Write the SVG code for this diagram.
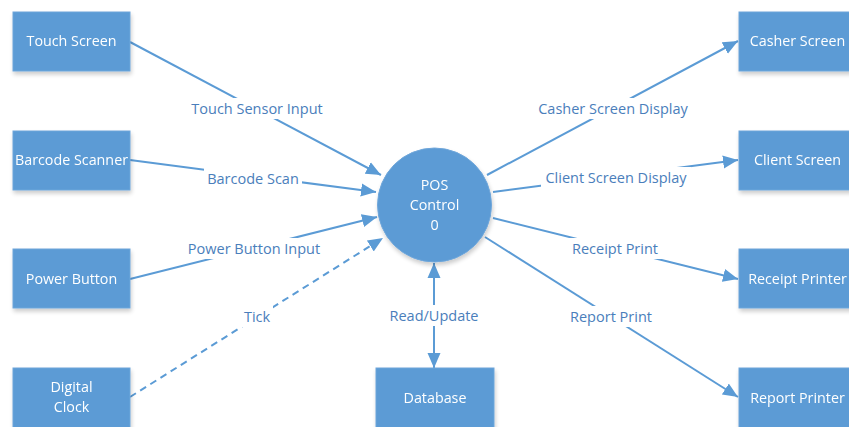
<svg xmlns="http://www.w3.org/2000/svg" width="849" height="427" viewBox="0 0 849 427">
<defs>
<style>
.box{fill:#5b9bd5;stroke:#6fa6da;stroke-width:1}
.nt{font-family:"Open Sans","Liberation Sans",sans-serif;font-size:14.3px;fill:#ffffff;text-anchor:middle}
.ln{fill:none;stroke:#5b9bd5;stroke-width:2}
.dash{stroke-dasharray:7,5}
.lb{font-family:"Open Sans","Liberation Sans",sans-serif;font-size:14.5px;fill:#4a7ebb;text-anchor:middle}
.bg{fill:#ffffff}
</style>
<filter id="sh" x="-10%" y="-10%" width="130%" height="130%">
<feGaussianBlur in="SourceAlpha" stdDeviation="2"/>
<feOffset dx="1" dy="3" result="b"/>
<feComponentTransfer><feFuncA type="linear" slope="0.2"/></feComponentTransfer>
<feMerge><feMergeNode/><feMergeNode in="SourceGraphic"/></feMerge>
</filter>
<marker id="ah" markerUnits="userSpaceOnUse" markerWidth="16" markerHeight="14" refX="15" refY="6.5" orient="auto-start-reverse" viewBox="0 0 16 13">
<path d="M0,0 L15,6.5 L0,13 Z" fill="#5b9bd5"/>
</marker>
</defs>
<rect width="849" height="427" fill="#ffffff"/>

<g id="connectors">
<line class="ln" x1="130" y1="42" x2="381" y2="175" marker-end="url(#ah)"/>
<line class="ln" x1="130" y1="160" x2="376" y2="192" marker-end="url(#ah)"/>
<line class="ln" x1="130" y1="279" x2="377" y2="217" marker-end="url(#ah)"/>
<line class="ln dash" x1="130" y1="397" x2="383" y2="238" marker-end="url(#ah)"/>
<line class="ln" x1="434" y1="263" x2="434" y2="368" marker-start="url(#ah)" marker-end="url(#ah)"/>
<line class="ln" x1="487" y1="175" x2="738" y2="41" marker-end="url(#ah)"/>
<line class="ln" x1="493" y1="192" x2="738" y2="160" marker-end="url(#ah)"/>
<line class="ln" x1="493" y1="218" x2="738" y2="279" marker-end="url(#ah)"/>
<line class="ln" x1="485" y1="237" x2="738" y2="397" marker-end="url(#ah)"/>
<g id="labels">
<rect class="bg" x="188" y="98" width="138" height="21"/><text class="lb" x="257" y="114">Touch Sensor Input</text>
<rect class="bg" x="204" y="168" width="98" height="21"/><text class="lb" x="253" y="184">Barcode Scan</text>
<rect class="bg" x="184" y="238" width="140" height="21"/><text class="lb" x="254" y="254">Power Button Input</text>
<rect class="bg" x="241" y="306" width="32" height="21"/><text class="lb" x="257" y="322">Tick</text>
<rect class="bg" x="385" y="305" width="98" height="21"/><text class="lb" x="434" y="321">Read/Update</text>
<rect class="bg" x="535" y="98" width="156" height="21"/><text class="lb" x="613" y="114">Casher Screen Display</text>
<rect class="bg" x="541" y="167" width="150" height="21"/><text class="lb" x="616" y="183">Client Screen Display</text>
<rect class="bg" x="568" y="238" width="94" height="21"/><text class="lb" x="615" y="254">Receipt Print</text>
<rect class="bg" x="566" y="306" width="90" height="21"/><text class="lb" x="611" y="322">Report Print</text>
</g>
</g>

<g id="touch-screen" filter="url(#sh)"><rect class="box" x="13" y="12" width="117" height="59"/><text class="nt" x="71.5" y="46">Touch Screen</text></g>
<g id="barcode-scanner" filter="url(#sh)"><rect class="box" x="13" y="131" width="117" height="59"/><text class="nt" x="71.5" y="165">Barcode Scanner</text></g>
<g id="power-button" filter="url(#sh)"><rect class="box" x="13" y="249" width="117" height="59"/><text class="nt" x="71.5" y="284">Power Button</text></g>
<g id="digital-clock" filter="url(#sh)"><rect class="box" x="13" y="368" width="117" height="64"/><text class="nt" x="71.5" y="392">Digital</text><text class="nt" x="71.5" y="412">Clock</text></g>

<g id="pos-control" filter="url(#sh)"><circle cx="434.5" cy="205" r="57" fill="#5b9bd5" stroke="#6fa6da"/><text class="nt" x="434.5" y="190">POS</text><text class="nt" x="434.5" y="210">Control</text><text class="nt" x="434.5" y="230">0</text></g>

<g id="database" filter="url(#sh)"><rect class="box" x="376" y="368" width="118" height="64"/><text class="nt" x="435" y="403">Database</text></g>

<g id="casher-screen" filter="url(#sh)"><rect class="box" x="739" y="12" width="117" height="59"/><text class="nt" x="797.5" y="46">Casher Screen</text></g>
<g id="client-screen" filter="url(#sh)"><rect class="box" x="739" y="131" width="117" height="59"/><text class="nt" x="797.5" y="165">Client Screen</text></g>
<g id="receipt-printer" filter="url(#sh)"><rect class="box" x="739" y="249" width="117" height="59"/><text class="nt" x="797.5" y="284">Receipt Printer</text></g>
<g id="report-printer" filter="url(#sh)"><rect class="box" x="739" y="368" width="117" height="64"/><text class="nt" x="797.5" y="403">Report Printer</text></g>
</svg>
